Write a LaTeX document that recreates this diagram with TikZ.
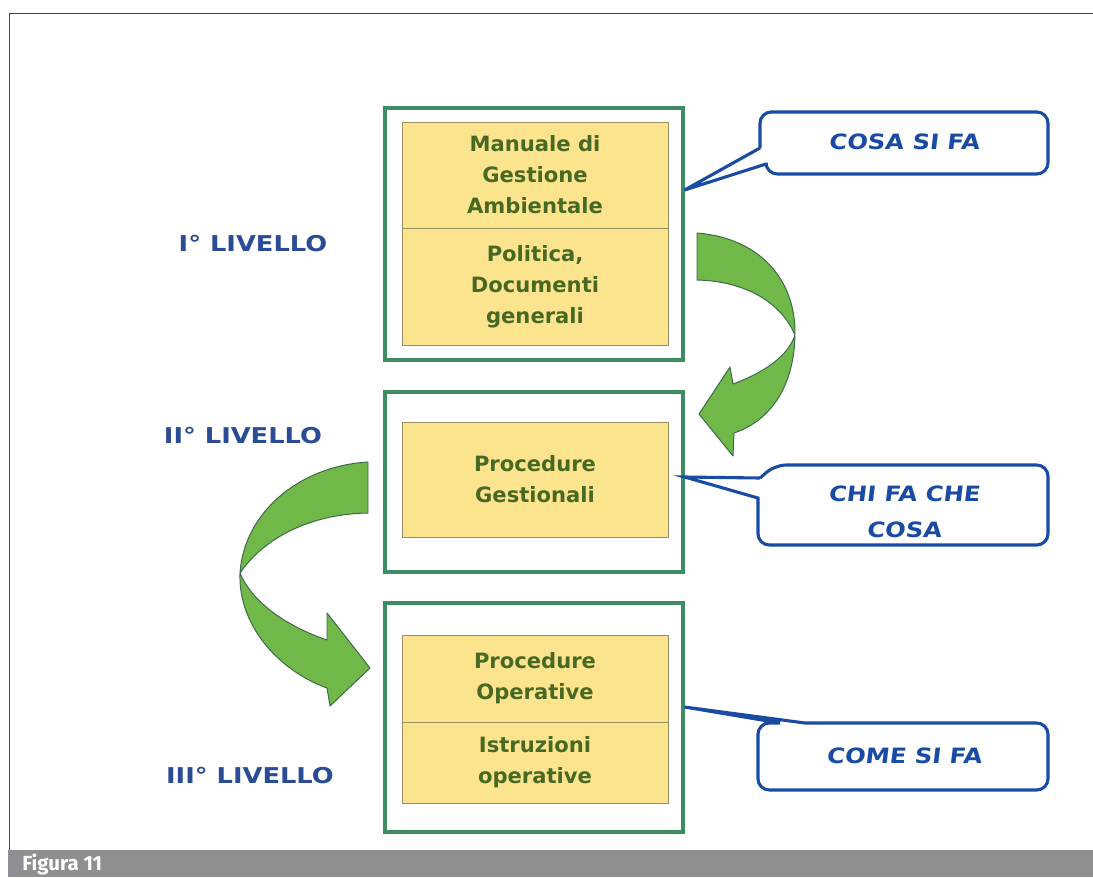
\documentclass[tikz,border=0pt]{standalone}
\usepackage{fontspec}
\setmainfont{DejaVu Sans}
\newfontfamily\lblfont[FakeStretch=1.18]{DejaVu Sans}
\newfontfamily\bubblefont[FakeStretch=1.15,FakeSlant=0.12]{DejaVu Sans}
\newfontfamily\capfont{Fira Sans}
\usetikzlibrary{positioning, shapes}
\usetikzlibrary{arrows.meta}
\definecolor{framegray}{RGB}{70,70,70}
\definecolor{bargray}{RGB}{141,143,147}
\definecolor{boxgreen}{RGB}{62,140,100}
\definecolor{paper}{RGB}{252,228,142}
\definecolor{edgeolive}{RGB}{150,145,95}
\definecolor{textgreen}{RGB}{72,105,35}
\definecolor{labelblue}{RGB}{42,75,150}
\definecolor{bubbleblue}{RGB}{25,75,165}
\definecolor{arrowfill}{RGB}{112,184,72}
\definecolor{arrowedge}{RGB}{60,105,75}

\begin{document}
\begin{tikzpicture}[x=0.025cm, y=-0.025cm]
    \tikzset{outerbox/.style = {draw=boxgreen, line width=2.2pt, minimum width=7.45cm}}
    \tikzset{innerbox/.style = {draw=edgeolive, line width=0.6pt, fill=paper, outer sep=0pt,
        minimum width=6.65cm, align=center, text=textgreen,
        font=\bfseries\fontsize{15}{22}\selectfont}}
    \tikzset{level/.style = {text=labelblue, font=\lblfont\bfseries\fontsize{15.5}{18}\selectfont}}
    \tikzset{bubble/.style = {draw=bubbleblue, line width=2.2pt, fill=white}}
    \tikzset{bubbletext/.style = {text=bubbleblue, align=center,
        font=\bubblefont\bfseries\fontsize{15}{26}\selectfont}}
    \tikzset{bendarrow/.style = {fill=arrowfill, draw=arrowedge, line width=0.7pt, line join=round}}

    \useasboundingbox (0,0) rectangle (1093,877);

    % frame and caption bar
    \draw[framegray, line width=0.7pt] (1093,13) -- (9,13) -- (9,850);
    \fill[bargray] (8,850) rectangle (1093,877);
    \node[anchor=base west, text=white, inner sep=0pt,
        font=\capfont\bfseries\fontsize{14.5}{17}\selectfont] (caption) at (22,870) {Figura 11};

    % first level
    \node[outerbox, minimum height=6.3cm] (boxI) at (534,234) {};
    \node[innerbox, minimum height=2.65cm] (manuale) at (535,175) {Manuale di\\Gestione\\Ambientale};
    \node[innerbox, minimum height=2.925cm, below=0pt of manuale] (politica) {Politica,\\Documenti\\generali};

    % second level
    \node[outerbox, minimum height=4.5cm] (boxII) at (534,482) {};
    \node[innerbox, minimum height=2.875cm] (gestionali) at (535,479.5) {Procedure\\Gestionali};

    % third level
    \node[outerbox, minimum height=5.725cm] (boxIII) at (534,717.5) {};
    \node[innerbox, minimum height=2.175cm] (operative) at (535,678.5) {Procedure\\Operative};
    \node[innerbox, minimum height=2.025cm, below=0pt of operative] (istruzioni) {Istruzioni\\operative};

    % level labels
    \node[level] (lvlI) at (253,243) {I° LIVELLO};
    \node[level] (lvlII) at (243,435) {II° LIVELLO};
    \node[level] (lvlIII) at (250,775) {III° LIVELLO};

    % callouts
    \coordinate (tipI) at (boxI.east |- 0,190);
    \coordinate (tipII) at (boxII.east |- 0,477);
    \coordinate (tipIII) at (boxIII.east |- 0,707);

    \draw[bubble] (760,148) [sharp corners] -- (tipI) -- (766,164) [rounded corners=8pt]
        -- (766,174) -- (1048,174) -- (1048,112) -- (760,112) -- (760,148);
    \node[bubbletext] (cosa) at (904,142) {COSA SI FA};

    \draw[bubble] (760,478) [sharp corners] -- (tipII) -- (758,498) [rounded corners=8pt]
        -- (758,545) -- (1048,545) -- (1048,465) -- (775,465) -- (760,478);
    \node[bubbletext] (chi) at (904,512) {CHI FA CHE\\COSA};

    \draw[bubble] (780,723) [sharp corners] -- (tipIII) -- (805,723) [rounded corners=8pt]
        -- (1048,723) -- (1048,790) -- (758,790) -- (758,723) -- (780,723);
    \node[bubbletext] (come) at (904,756) {COME SI FA};

    % green arrows
    \filldraw[bendarrow] (697,233) .. controls (760,238) and (796,280) .. (795,335)
        .. controls (794,385) and (772,420) .. (734,433) -- (733,456) -- (699,414) -- (730,367) -- (733,384)
        .. controls (765,372) and (788,356) .. (795,335)
        .. controls (780,300) and (742,281) .. (697,280) -- cycle;

    \filldraw[bendarrow] (368,462) .. controls (300,466) and (244,512) .. (240,573)
        .. controls (238,628) and (282,672) .. (327,688) -- (330,706) -- (370,668) -- (327,613) -- (327,640)
        .. controls (286,626) and (252,602) .. (240,573)
        .. controls (264,538) and (310,514) .. (368,513) -- cycle;
\end{tikzpicture}
\end{document}
